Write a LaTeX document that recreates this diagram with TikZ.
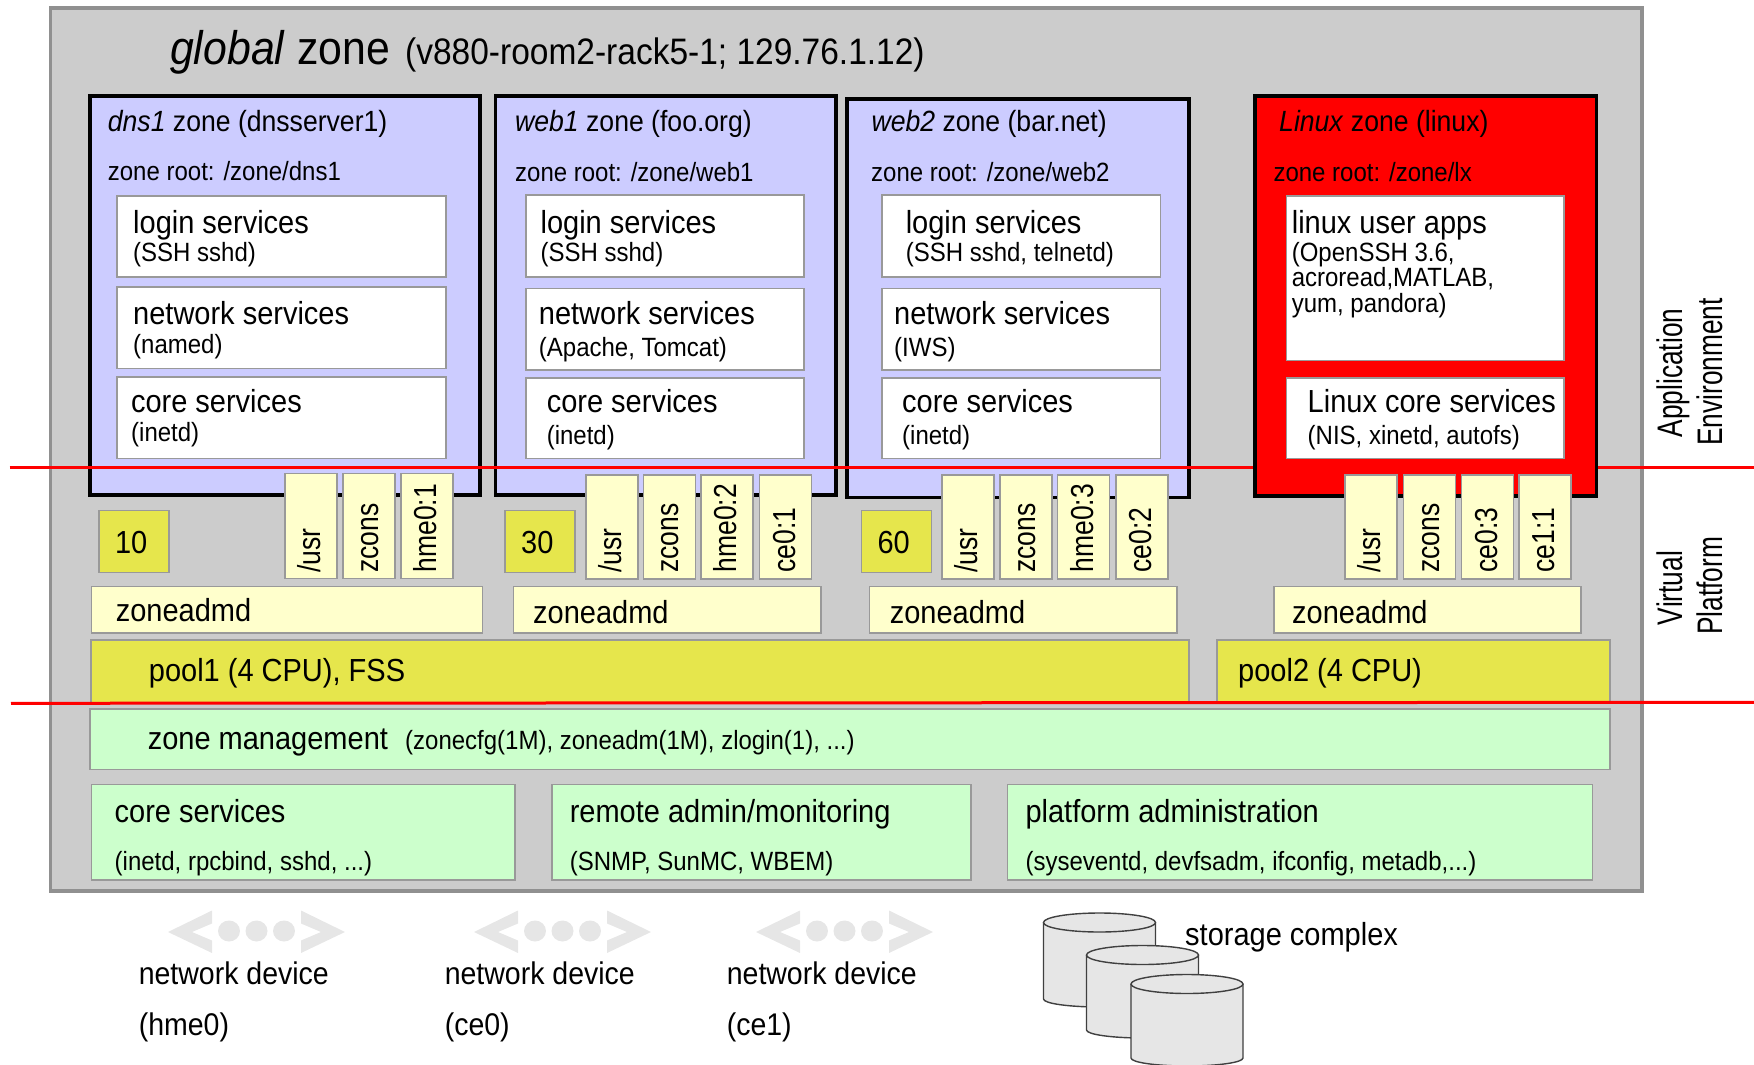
\documentclass[tikz,border=0pt]{standalone}
\usepackage{fontspec}
\setmainfont{Liberation Sans}
\definecolor{zonegrey}{HTML}{CCCCCC}
\definecolor{edgegrey}{HTML}{999999}
\definecolor{outergrey}{HTML}{909090}
\definecolor{zoneblue}{HTML}{CCCCFF}
\definecolor{creamfill}{HTML}{FFFFCC}
\definecolor{poolyellow}{HTML}{E6E64C}
\definecolor{mintfill}{HTML}{CCFFCC}
\definecolor{iconfill}{HTML}{E6E6E6}
\tikzset{
  txt/.style={anchor=base west, inner sep=0pt, yshift=-1pt, yscale=1.1},
  bigtxt/.style={txt, font=\fontsize{42.8}{48}\selectfont},
  hosttxt/.style={txt, font=\fontsize{33.5}{38}\selectfont},
  maintxt/.style={txt, font=\fontsize{29}{33}\selectfont},
  zonetxt/.style={txt, font=\fontsize{26.6}{30}\selectfont},
  subtxt/.style={txt, font=\fontsize{24}{28}\selectfont},
  tabtxt/.style={anchor=base west, inner sep=0pt, rotate=90, yscale=1.2, font=\fontsize{26.5}{30}\selectfont},
  sidetxt/.style={anchor=base, inner sep=0pt, rotate=90, yscale=1.35, font=\fontsize{26.3}{30}\selectfont},
  globalbox/.style={draw=outergrey, line width=3.5pt, fill=zonegrey},
  zonebox/.style={draw=black, line width=3.5pt, fill=zoneblue},
  linuxbox/.style={draw=black, line width=3.5pt, fill=red},
  whitebox/.style={draw=edgegrey, line width=1.5pt, fill=white},
  creambox/.style={draw=edgegrey, line width=1.5pt, fill=creamfill},
  yellowbox/.style={draw=edgegrey, line width=1.5pt, fill=poolyellow},
  mintbox/.style={draw=edgegrey, line width=1.5pt, fill=mintfill},
  redline/.style={draw=red, line width=3pt},
  disk/.style={draw=black!75, line width=1.4pt, fill=iconfill}
}

\begin{document}
\begin{tikzpicture}[x=1pt, y=-1pt]
\useasboundingbox (0,0) rectangle (1754,1065);
\draw[globalbox] (50.5,8) rectangle (1642,891);
\node[bigtxt] (globaltitle) at (170,63.7) {\textit{global} zone};
\node[hosttxt] (globalhost) at (405,63.7) {(v880-room2-rack5-1; 129.76.1.12)};

\draw[zonebox] (90,96) rectangle (480,495);
\draw[zonebox] (495.5,96) rectangle (836,495);
\draw[zonebox] (847,99) rectangle (1189,497.5);

\draw[whitebox] (117,196) rectangle (446,277);
\draw[whitebox] (117,287) rectangle (446,368.5);
\draw[whitebox] (117,377) rectangle (446,458.5);
\foreach \x/\w in {526/804,882/1160.5}{
\draw[whitebox] (\x,195) rectangle (\w,277);
\draw[whitebox] (\x,288.5) rectangle (\w,370);
\draw[whitebox] (\x,378) rectangle (\w,458.5);
}

\node[zonetxt] (dnstitle) at (107.7,130) {\textit{dns1} zone (dnsserver1)};
\node[subtxt] (dnsroot) at (107.7,179) {zone root: /zone/dns1};
\node[maintxt] (dnslogin) at (133,232.8) {login services};
\node[subtxt] (dnsloginsub) at (133,260.7) {(SSH sshd)};
\node[maintxt] (dnsnet) at (133,323.7) {network services};
\node[subtxt] (dnsnetsub) at (133,352.6) {(named)};
\node[maintxt] (dnscore) at (130.8,411.5) {core services};
\node[subtxt] (dnscoresub) at (131,440) {(inetd)};

\node[zonetxt] (webonetitle) at (515,130) {\textit{web1} zone (foo.org)};
\node[subtxt] (weboneroot) at (515,180.8) {zone root: /zone/web1};
\node[maintxt] (webonelogin) at (540.4,232.8) {login services};
\node[subtxt] (weboneloginsub) at (540.4,260.7) {(SSH sshd)};
\node[maintxt] (webonenet) at (538.7,323.7) {network services};
\node[subtxt] (webonenetsub) at (538.7,355.7) {(Apache, Tomcat)};
\node[maintxt] (webonecore) at (546.6,411.5) {core services};
\node[subtxt] (webonecoresub) at (546.6,443.5) {(inetd)};

\node[zonetxt] (webtwotitle) at (871.4,130) {\textit{web2} zone (bar.net)};
\node[subtxt] (webtworoot) at (871,180.8) {zone root: /zone/web2};
\node[maintxt] (webtwologin) at (905.6,232.8) {login services};
\node[subtxt] (webtwologinsub) at (905.6,260.7) {(SSH sshd, telnetd)};
\node[maintxt] (webtwonet) at (894,323.7) {network services};
\node[subtxt] (webtwonetsub) at (894,355.7) {(IWS)};
\node[maintxt] (webtwocore) at (902,411.5) {core services};
\node[subtxt] (webtwocoresub) at (902,443.5) {(inetd)};

\coordinate (envleft) at (9.5,467.6);
\coordinate (envright) at (1754,467.6);
\coordinate (platleft) at (11,703.3);
\coordinate (platright) at (1754,702.3);
\draw[redline] (envleft) -- (envright);

\draw[linuxbox] (1255,96) rectangle (1596.5,496);
\draw[whitebox] (1286.5,196) rectangle (1564,360.5);
\draw[whitebox] (1286.5,378) rectangle (1564,458.5);
\node[zonetxt] (linuxtitle) at (1279,130) {\textit{Linux} zone (linux)};
\node[subtxt] (linuxroot) at (1273.3,180.8) {zone root: /zone/lx};
\node[maintxt] (linuxapps) at (1291.6,232.8) {linux user apps};
\node[subtxt] (linuxappsa) at (1291.6,260.7) {(OpenSSH 3.6,};
\node[subtxt] (linuxappsb) at (1291.6,285.8) {acroread,MATLAB,};
\node[subtxt] (linuxappsc) at (1291.6,311.6) {yum, pandora)};
\node[maintxt] (linuxcore) at (1307.5,411.5) {Linux core services};
\node[subtxt] (linuxcoresub) at (1307.5,443.5) {(NIS, xinetd, autofs)};

\foreach \n/\x/\t in {dnsusr/310.8/{/usr},dnszcons/368.8/zcons,dnshme/427.2/hme0:1}{
\draw[creambox] (\x-26,473.5) rectangle (\x+26,578.5);
\node[tabtxt] (\n) at (\x+9.5,572.7) {\t};
}
\foreach \n/\x/\t in {webaone/612/{/usr},webbone/669.4/zcons,webcone/727/hme0:2,webdone/785.5/ce0:1,
webatwo/967.8/{/usr},webbtwo/1026/zcons,webctwo/1083.5/hme0:3,webdtwo/1142/ce0:2,
linuxa/1371/{/usr},linuxb/1429.5/zcons,linuxc/1487.5/ce0:3,linuxd/1545/ce1:1}{
\draw[creambox] (\x-26,475) rectangle (\x+26,579);
\node[tabtxt] (\n) at (\x+9.5,572.7) {\t};
}

\foreach \n/\x/\t in {shareten/98.8/10,sharethirty/505/30,sharesixty/861.4/60}{
\draw[yellowbox] (\x,510.7) rectangle (\x+70,572.7);
\node[maintxt] (\n) at (\x+16,552) {\t};
}

\draw[creambox] (91.5,586.5) rectangle (482.5,633);
\draw[creambox] (513.5,586.5) rectangle (821,633);
\draw[creambox] (869.7,586.5) rectangle (1177,633);
\draw[creambox] (1274,586.5) rectangle (1581,633);
\node[maintxt] (admdns) at (115.6,620.4) {zoneadmd};
\node[maintxt] (admwebone) at (533,622) {zoneadmd};
\node[maintxt] (admwebtwo) at (889.6,622) {zoneadmd};
\node[maintxt] (admlinux) at (1292,622) {zoneadmd};

\draw[yellowbox] (91,640) rectangle (1189,703);
\draw[yellowbox] (1217,640) rectangle (1610,703);
\node[maintxt] (poolone) at (148.7,680) {pool1 (4 CPU), FSS};
\node[maintxt] (pooltwo) at (1238,680) {pool2 (4 CPU)};
\draw[redline] (platleft) -- (platright);

\draw[mintbox] (90,709) rectangle (1610,769.5);
\node[maintxt] (mgmt) at (147.6,748.4) {zone management};
\node[subtxt] (mgmtsub) at (405,748.4) {(zonecfg(1M), zoneadm(1M), zlogin(1), ...)};

\draw[mintbox] (91.5,784.5) rectangle (515,880);
\draw[mintbox] (552,784.5) rectangle (971,880);
\draw[mintbox] (1007.7,784.5) rectangle (1592.5,880);
\node[maintxt] (hostcore) at (114.5,821.8) {core services};
\node[subtxt] (hostcoresub) at (114.5,869.6) {(inetd, rpcbind, sshd, ...)};
\node[maintxt] (hostremote) at (569.6,821.8) {remote admin/monitoring};
\node[subtxt] (hostremotesub) at (569.6,869.6) {(SNMP, SunMC, WBEM)};
\node[maintxt] (hostplat) at (1025.3,821.8) {platform administration};
\node[subtxt] (hostplatsub) at (1025.3,869.6) {(syseventd, devfsadm, ifconfig, metadb,...)};

\foreach \n/\x/\t in {hme/0/hme0,ceo/306/ce0,cei/588/ce1}{
\begin{scope}[xshift=\x pt]
\fill[iconfill] (168,932) -- (212,910.5) -- (212,923.5) -- (192,932) -- (212,940.5) -- (212,953) -- cycle;
\fill[iconfill] (345,932) -- (301,910.5) -- (301,923.5) -- (321,932) -- (301,940.5) -- (301,953) -- cycle;
\foreach \d in {229,256.5,284}
\fill[iconfill] (\d,931) ellipse [x radius=11pt, y radius=10.5pt];
\node[maintxt, font=\fontsize{28.5}{32}\selectfont] (net\n) at (138.6,983) {network device};
\node[maintxt, font=\fontsize{28.5}{32}\selectfont] (net\n sub) at (138.6,1034.4) {(\t)};
\end{scope}
}

\foreach \x/\y/\b in {1099.5/922.5/999,1142.5/955/1030,1187/984/1058}{
\draw[disk] (\x-56,\y) -- (\x-56,\b) arc [start angle=180, end angle=360, x radius=56pt, y radius=8pt] -- (\x+56,\y);
\draw[disk] (\x,\y) ellipse [x radius=56pt, y radius=9.5pt];
}
\node[maintxt] (storage) at (1185,944.7) {storage complex};

\node[sidetxt] (sideappa) at (1682.7,373) {Application};
\node[sidetxt] (sideappb) at (1722.7,372) {Environment};
\node[sidetxt] (sidevira) at (1682.7,588) {Virtual};
\node[sidetxt] (sidevirb) at (1722.7,586) {Platform};
\end{tikzpicture}
\end{document}
